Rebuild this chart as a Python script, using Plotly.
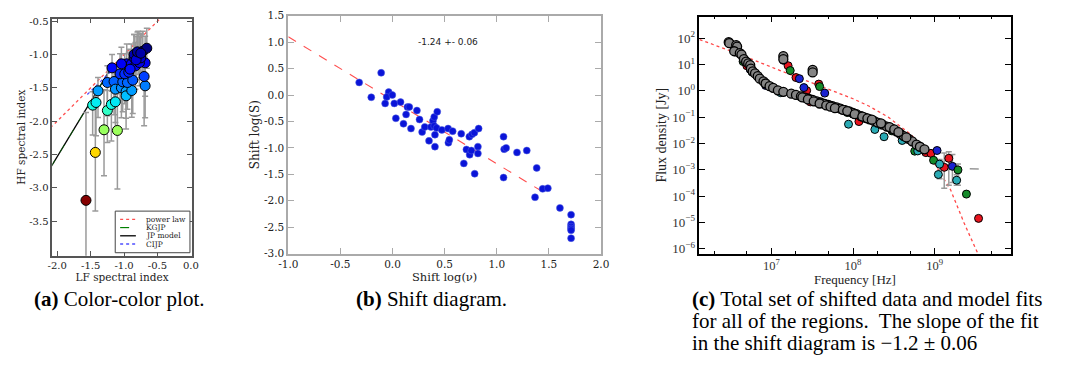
import plotly.graph_objects as go

W, H = 1082, 370

# ---------------- Panel (a): colour-colour plot ----------------
lf_index = [-1.57, -1.43, -1.30, -1.10, -1.47, -1.42, -1.25, -1.19, -1.13, -1.39,
            -1.25, -1.15, -1.13, -1.04, -0.97, -0.97, -0.885, -1.02, -0.95, -0.87,
            -0.685, -0.70, -0.685, -1.18, -1.06, -0.99, -0.93, -0.96, -0.89, -0.83,
            -0.77, -0.85, -0.85, -0.79, -0.75, -0.72, -0.66, -0.82, -1.04, -0.91,
            -0.80, -0.75]
hf_index = [-3.19, -2.47, -2.13, -2.14, -1.76, -1.72, -1.84, -1.75, -1.71, -1.545,
            -1.42, -1.405, -1.52, -1.50, -1.555, -1.62, -1.54, -1.41, -1.42, -1.385,
            -1.47, -1.33, -1.125, -1.20, -1.29, -1.29, -1.265, -1.14, -1.14, -1.17,
            -1.12, -1.05, -1.00, -1.00, -1.05, -0.95, -0.905, -1.08, -1.14, -1.22,
            -0.96, -0.98]
hf_err_up = [1.32, 0.90, 0.60, 0.55, 0.20, 0.20, 0.30, 0.30, 0.30, 0.20,
             0.25, 0.25, 0.25, 0.25, 0.30, 0.30, 0.30, 0.30, 0.30, 0.30,
             0.40, 0.40, 0.40, 0.20, 0.30, 0.30, 0.30, 0.30, 0.30, 0.35,
             0.40, 0.35, 0.30, 0.35, 0.35, 0.30, 0.30, 0.35, 0.25, 0.30,
             0.30, 0.30]
hf_err_down = [1.00, 0.88, 0.69, 0.88, 0.45, 0.50, 0.48, 0.55, 0.45, 0.40,
               0.50, 0.50, 0.50, 0.45, 0.40, 0.50, 0.40, 0.45, 0.40, 0.50,
               0.48, 0.74, 0.50, 0.35, 0.40, 0.45, 0.35, 0.30, 0.35, 0.35,
               0.35, 0.30, 0.30, 0.30, 0.30, 0.30, 0.30, 0.30, 0.30, 0.30,
               0.25, 0.30]
powerlaw_x = [-2.1, -0.46]
powerlaw_y = [-2.1, -0.46]
jp_x = [-2.1, -1.16]
jp_y = [-2.70, -1.144]
cijp_x = [-1.55, -0.98]
cijp_y = [-1.60, -1.04]
a_xticks = [-2.0, -1.5, -1.0, -0.5, 0.0]
a_xticktext = ["-2.0", "-1.5", "-1.0", "-0.5", "0.0"]
a_yticks = [-3.5, -3.0, -2.5, -2.0, -1.5, -1.0, -0.5]
a_yticktext = ["-3.5", "-3.0", "-2.5", "-2.0", "-1.5", "-1.0", "-0.5"]
legend_labels = ["power law", "KGJP", "JP model", "CIJP"]

# ---------------- Panel (b): shift diagram ----------------
shift_lognu = [-0.32, -0.109, -0.204, -0.037, -0.056, -0.002, -0.071, 0.017, 0.077, 0.032,
               0.105, 0.13, 0.143, 0.161, 0.177, 0.234, 0.259, 0.284, 0.309, 0.35,
               0.369, 0.388, 0.40, 0.40, 0.423, 0.407, 0.407, 0.429, 0.473, 0.533,
               0.536, 0.545, 0.577, 0.659, 0.684, 0.709, 0.737, 0.74, 0.756, 0.763,
               0.785, 0.788, 0.826, 0.819, 0.819, 1.065, 1.065, 1.071, 1.09, 1.194,
               1.288, 1.367, 1.383, 1.44, 1.49, 1.606, 1.713, 1.713, 1.713, 1.713,
               1.713, 1.713]
shift_logs = [0.238, 0.42, -0.043, 0.055, -0.037, 0.0, -0.159, -0.159, -0.134, -0.44,
              -0.543, -0.366, -0.226, -0.226, -0.634, -0.293, -0.463, -0.70, -0.604, -0.866,
              -0.604, -0.488, -0.415, -0.585, -0.622, -0.75, -0.976, -0.317, -0.659, -0.634,
              -0.902, -0.848, -0.683, -0.732, -1.293, -1.03, -0.787, -1.128, -1.049, -0.744,
              -0.713, -1.488, -0.634, -0.976, -1.104, -0.787, -1.561, -1.024, -1.0, -1.085,
              -1.049, -1.933, -1.378, -1.774, -1.762, -2.134, -2.262, -2.445, -2.488, -2.524,
              -2.555, -2.707]
fit_x = [-1.0, 1.5]
fit_y = [1.1, -1.9]
fit_label = "-1.24 +- 0.06"
b_xticks = [-1.0, -0.5, 0.0, 0.5, 1.0, 1.5, 2.0]
b_xticktext = ["-1.0", "-0.5", "0.0", "0.5", "1.0", "1.5", "2.0"]
b_yticks = [-3.0, -2.5, -2.0, -1.5, -1.0, -0.5, 0.0, 0.5, 1.0, 1.5]
b_yticktext = ["-3.0", "-2.5", "-2.0", "-1.5", "-1.0", "-0.5", "0.0", "0.5", "1.0", "1.5"]

# ---------------- Panel (c): shifted spectra ----------------
band_freq = [3.0e6, 3.05e6, 3.7e6, 3.8e6, 3.5e6, 4.1e6, 4.3e6, 4.6e6, 4.9e6, 5.2e6,
             5.5e6, 5.6e6, 5.9e6, 6.3e6, 6.8e6, 7.2e6, 8.0e6, 8.5e6, 9.5e6, 1.05e7,
             1.2e7, 1.4e7, 1.75e7, 2.0e7, 2.3e7, 2.6e7, 2.9e7, 3.2e7, 3.6e7, 4.0e7,
             4.5e7, 5.0e7, 5.6e7, 6.3e7, 7.0e7, 8.0e7, 9.0e7, 1.0e8, 1.1e8, 1.25e8,
             1.4e8, 1.6e8, 1.8e8, 2.0e8, 2.3e8, 2.6e8, 3.0e8, 3.4e8, 3.8e8, 4.2e8,
             4.8e8, 5.3e8, 6.0e8, 6.6e8, 7.5e8, 2.4e7, 2.8e7, 3.3e7, 3.9e7, 4.7e7,
             5.3e7, 6.0e7, 7.5e7, 8.5e7, 1.05e8, 1.3e8, 1.5e8, 1.7e8, 2.2e8, 2.8e8,
             3.2e8, 3.6e8, 4.5e8, 1.4e7, 1.4e7, 3.2e7, 3.2e7]
band_flux = [71, 65, 55, 48, 32, 27, 24, 16, 13, 11,
             9.5, 7.0, 5.5, 4.6, 3.6, 2.9, 2.3, 1.9, 1.5, 1.3,
             1.05, 0.92, 0.78, 0.70, 0.62, 0.55, 0.49, 0.45, 0.40, 0.36,
             0.32, 0.29, 0.26, 0.235, 0.21, 0.185, 0.165, 0.145, 0.13, 0.11,
             0.095, 0.082, 0.072, 0.062, 0.052, 0.044, 0.036, 0.029, 0.023, 0.019,
             0.015, 0.012, 0.009, 0.0075, 0.006, 0.56, 0.47, 0.40, 0.33, 0.28,
             0.25, 0.22, 0.19, 0.17, 0.13, 0.105, 0.09, 0.08, 0.058, 0.042,
             0.034, 0.027, 0.017, 21.0, 16.0, 6.3, 5.0]
red_freq = [3.1e6, 5.0e6, 1.6e7, 2.0e7, 2.7e7, 3.8e7, 3.0e7, 1.18e8, 7.8e8, 9.0e8, 1.31e9, 1.49e9, 3.45e9]
red_flux = [66, 9.0, 9.0, 3.2, 1.02, 1.8, 0.38, 0.068, 0.0045, 0.0042, 0.00124, 0.00273, 1.42e-5]
blue_freq = [3.8e6, 5.5e6, 8.5e6, 1.4e7, 2.2e7, 2.5e7, 4.5e7, 1.0e8, 4.0e8, 7.0e8, 1.07e9, 1.65e9]
blue_flux = [42, 6.5, 1.6, 14.5, 2.9, 1.33, 0.82, 0.13, 0.02, 0.006, 0.0054, 0.00135]
green_freq = [4.5e6, 1.7e7, 3.9e7, 8.5e7, 3.0e8, 5.7e8, 9.7e8, 1.93e9, 2.45e9]
green_flux = [13, 5.9, 1.45, 0.15, 0.03, 0.0051, 0.0023, 0.00099, 0.000119]
cyan_freq = [3.6e6, 5.8e6, 1.3e7, 8.8e7, 1.85e8, 2.4e8, 4.0e8, 6.2e8, 1.11e9, 1.15e9, 1.86e9]
cyan_flux = [30, 5.2, 0.85, 0.054, 0.034, 0.018, 0.013, 0.0052, 0.00066, 0.00164, 0.0004]
errbar_freq = [1.31e9, 1.49e9, 1.65e9, 1.15e9, 1.93e9, 1.86e9]
errbar_flux = [0.00124, 0.00273, 0.00135, 0.00164, 0.00099, 0.0004]
errbar_plus = [0.0031, 0.00207, 0.00245, 0.0008, 0.00065, 0.00025]
errbar_minus = [0.00104, 0.00247, 0.00102, 0.00118, 0.00073, 0.00014]
model_freq = [1.32e6, 4.0e6, 1.26e7, 4.0e7, 1.0e8, 1.58e8, 2.7e8, 5.2e8, 9.0e8, 1.57e9, 2.28e9, 3.15e9, 3.39e9]
model_flux = [89, 25, 6.0, 1.5, 0.5, 0.26, 0.1, 0.021, 0.0029, 1.7e-4, 1.0e-5, 1.05e-6, 6.5e-7]
ci_freq = [1.0e9, 1.6e9, 2.2e9, 3.6e9]
ci_flux = [0.002, 0.00126, 0.00112, 0.00107]
c_xticks = [1e7, 1e8, 1e9]
c_xticktext = ["10<sup>7</sup>", "10<sup>8</sup>", "10<sup>9</sup>"]
c_yticks = [1e-6, 1e-5, 1e-4, 1e-3, 1e-2, 1e-1, 1e0, 1e1, 1e2]
c_yticktext = ["10<sup>−6</sup>", "10<sup>−5</sup>", "10<sup>−4</sup>", "10<sup>−3</sup>", "10<sup>−2</sup>",
               "10<sup>−1</sup>", "10<sup>0</sup>", "10<sup>1</sup>", "10<sup>2</sup>"]

# matplotlib-style "jet" colour map
JET = [[0.0, "rgb(0,0,128)"], [0.11, "rgb(0,0,255)"], [0.125, "rgb(0,0,255)"],
       [0.34, "rgb(0,219,255)"], [0.35, "rgb(0,229,247)"], [0.375, "rgb(21,255,226)"],
       [0.64, "rgb(239,255,8)"], [0.65, "rgb(247,245,0)"], [0.66, "rgb(255,236,0)"],
       [0.89, "rgb(255,19,0)"], [0.91, "rgb(232,0,0)"], [1.0, "rgb(128,0,0)"]]

# ---------------- helpers ----------------
def px(x):
    return x / W

def py(y):
    return 1 - y / H

SERIF = "DejaVu Serif"
CM = "Liberation Serif"

fig = go.Figure()

# Panel (a)
fig.add_trace(go.Scatter(x=powerlaw_x, y=powerlaw_y, mode="lines", xaxis="x", yaxis="y",
                         line=dict(color="rgba(255,60,60,0.9)", width=1.3, dash="dot"), showlegend=False))
fig.add_trace(go.Scatter(x=jp_x, y=jp_y, mode="lines", xaxis="x", yaxis="y",
                         line=dict(color="black", width=1.3), showlegend=False))
fig.add_trace(go.Scatter(x=jp_x, y=jp_y, mode="lines", xaxis="x", yaxis="y",
                         line=dict(color="rgba(0,128,0,0.6)", width=1.0, dash="dash"), showlegend=False))
fig.add_trace(go.Scatter(x=cijp_x, y=cijp_y, mode="lines", xaxis="x", yaxis="y",
                         line=dict(color="rgba(60,60,255,0.9)", width=1.3, dash="dot"), showlegend=False))
fig.add_trace(go.Scatter(x=lf_index, y=hf_index, mode="markers", xaxis="x", yaxis="y",
                         marker=dict(size=1, color="rgba(0,0,0,0)"),
                         error_y=dict(type="data", symmetric=False, array=hf_err_up, arrayminus=hf_err_down,
                                      color="#9a9a9a", thickness=1.5, width=3),
                         showlegend=False))
fig.add_trace(go.Scatter(x=lf_index, y=hf_index, mode="markers", xaxis="x", yaxis="y",
                         marker=dict(size=10, color=hf_index, colorscale=JET, reversescale=True,
                                     cmin=-3.2, cmax=-0.9, line=dict(color="black", width=1)),
                         showlegend=False))

# Panel (b)
fig.add_trace(go.Scatter(x=fit_x, y=fit_y, mode="lines", xaxis="x2", yaxis="y2",
                         line=dict(color="rgba(255,60,60,0.9)", width=1.1, dash="dash"), showlegend=False))
fig.add_trace(go.Scatter(x=shift_lognu, y=shift_logs, mode="markers", xaxis="x2", yaxis="y2",
                         marker=dict(size=7, color="#0a14d8", line=dict(color="#5060e0", width=0.5)),
                         showlegend=False))

# Panel (c)
fig.add_trace(go.Scatter(x=model_freq, y=model_flux, mode="lines", xaxis="x3", yaxis="y3",
                         line=dict(color="rgba(255,40,40,0.85)", width=1.3, dash="dot"), showlegend=False))
fig.add_trace(go.Scatter(x=ci_freq, y=ci_flux, mode="lines", xaxis="x3", yaxis="y3",
                         line=dict(color="#999999", width=1.5, dash="dash"), showlegend=False))
fig.add_trace(go.Scatter(x=errbar_freq, y=errbar_flux, mode="markers", xaxis="x3", yaxis="y3",
                         marker=dict(size=1, color="rgba(0,0,0,0)"),
                         error_y=dict(type="data", symmetric=False, array=errbar_plus, arrayminus=errbar_minus,
                                      color="#9a9a9a", thickness=1.5, width=3),
                         showlegend=False))
for fx, fy, col in [(red_freq, red_flux, "#e8141e"), (blue_freq, blue_flux, "#1a22d0"),
                    (green_freq, green_flux, "#158a2a"), (cyan_freq, cyan_flux, "#2aaab4")]:
    fig.add_trace(go.Scatter(x=fx, y=fy, mode="markers", xaxis="x3", yaxis="y3",
                             marker=dict(size=8, color=col, line=dict(color="black", width=1)),
                             showlegend=False))
fig.add_trace(go.Scatter(x=band_freq, y=band_flux, mode="markers", xaxis="x3", yaxis="y3",
                         marker=dict(size=9, color="#848484", line=dict(color="black", width=1.3)),
                         showlegend=False))

tickfont_ab = dict(family=SERIF, size=10, color="#222")
common = dict(showgrid=False, zeroline=False, showline=True, mirror="allticks", ticks="inside")

fig.update_layout(
    width=W, height=H, margin=dict(l=0, r=0, t=0, b=0),
    paper_bgcolor="white", plot_bgcolor="white", showlegend=False,
    xaxis=dict(domain=[px(43), px(185)], range=[-2.074, 0.015], anchor="y",
               tickvals=a_xticks, ticktext=a_xticktext, tickfont=tickfont_ab,
               linecolor="#555", linewidth=1.5, tickcolor="#555", ticklen=5,
               title=dict(text="LF spectral index", font=dict(family=SERIF, size=10.5, color="#222"), standoff=0),
               **common),
    yaxis=dict(domain=[py(258), py(13)], range=[-4.02, -0.46], anchor="x",
               tickvals=a_yticks, ticktext=a_yticktext, tickfont=tickfont_ab,
               linecolor="#555", linewidth=1.5, tickcolor="#555", ticklen=5,
               title=dict(text="HF spectral index", font=dict(family=SERIF, size=10.5, color="#222"), standoff=2),
               **common),
    xaxis2=dict(domain=[px(283), px(601)], range=[-1.0, 2.0], anchor="y2",
                tickvals=b_xticks, ticktext=b_xticktext, tickfont=dict(family=SERIF, size=10.5, color="#222"),
                linecolor="#aaa", linewidth=2, tickcolor="#aaa", ticklen=6,
                title=dict(text="Shift log(ν)", font=dict(family=SERIF, size=11.5, color="#222"), standoff=0),
                **common),
    yaxis2=dict(domain=[py(256), py(10)], range=[-3.0, 1.5], anchor="x2",
                tickvals=b_yticks, ticktext=b_yticktext, tickfont=dict(family=SERIF, size=10.5, color="#222"),
                linecolor="#aaa", linewidth=2, tickcolor="#aaa", ticklen=6,
                title=dict(text="Shift log(S)", font=dict(family=SERIF, size=12, color="#222"), standoff=2),
                **common),
    xaxis3=dict(domain=[px(701), px(1018)], type="log", range=[6.117, 9.936], anchor="y3",
                tickvals=c_xticks, ticktext=c_xticktext, tickfont=dict(family=CM, size=12.5, color="#333"),
                linecolor="black", linewidth=1.5, tickcolor="black", ticklen=6,
                minor=dict(ticks="inside", ticklen=3, tickcolor="black", showgrid=False, dtick="D2"),
                **common),
    yaxis3=dict(domain=[py(256), py(11)], type="log", range=[-6.19, 2.82], anchor="x3",
                tickvals=c_yticks, ticktext=c_yticktext, tickfont=dict(family=CM, size=13, color="#333"),
                linecolor="black", linewidth=1.5, tickcolor="black", ticklen=6,
                title=dict(text="Flux density [Jy]", font=dict(family=CM, size=14, color="#222"), standoff=2),
                **common),
)

# Fit label in panel (b)
annotations = [dict(x=0.53, y=1.0, xref="x2", yref="y2", text=fit_label, showarrow=False,
                    font=dict(family="DejaVu Sans", size=9, color="#222"), xanchor="center", yanchor="middle")]

# X title of panel (c), placed explicitly between tick labels and caption
annotations.append(dict(x=(px(701) + px(1018)) / 2, y=py(283), xref="paper", yref="paper",
                        text="Frequency [Hz]", showarrow=False, xanchor="center", yanchor="middle",
                        font=dict(family=CM, size=13, color="#222")))

# Manual legend for panel (a)
shapes = [dict(type="rect", xref="paper", yref="paper", x0=px(107), x1=px(183), y0=py(255), y1=py(212),
               line=dict(color="#444", width=1), fillcolor="white", layer="above")]
leg_styles = [dict(color="rgba(255,60,60,0.9)", width=1.3, dash="dot"),
              dict(color="green", width=1.2, dash="dash"),
              dict(color="black", width=1.3),
              dict(color="rgba(60,60,255,0.9)", width=1.3, dash="dot")]
leg_rows = [220.5, 229, 237.5, 246]
for lab, st, yy in zip(legend_labels, leg_styles, leg_rows):
    shapes.append(dict(type="line", xref="paper", yref="paper", x0=px(112), x1=px(128), y0=py(yy), y1=py(yy),
                       line=st, layer="above"))
    annotations.append(dict(x=px(136), y=py(yy), xref="paper", yref="paper", text=lab, showarrow=False,
                            xanchor="left", yanchor="middle", font=dict(family=SERIF, size=7.5, color="#222")))

# Captions
cap_font = dict(family=CM, size=21, color="black")
captions = [
    (22, 303, "<b>(a)</b> Color-color plot."),
    (350, 303, "<b>(b)</b> Shift diagram."),
    (691, 303, "<b>(c)</b> Total set of shifted data and model fits"),
    (691, 326, "for all of the regions.  The slope of the fit"),
    (691, 348, "in the shift diagram is −1.2 ± 0.06"),
]
for cx, cy, txt in captions:
    annotations.append(dict(x=px(cx), y=py(cy), xref="paper", yref="paper", text=txt, showarrow=False,
                            xanchor="left", yanchor="middle", font=cap_font))

fig.update_layout(shapes=shapes, annotations=annotations)
fig.write_html("out.html")
